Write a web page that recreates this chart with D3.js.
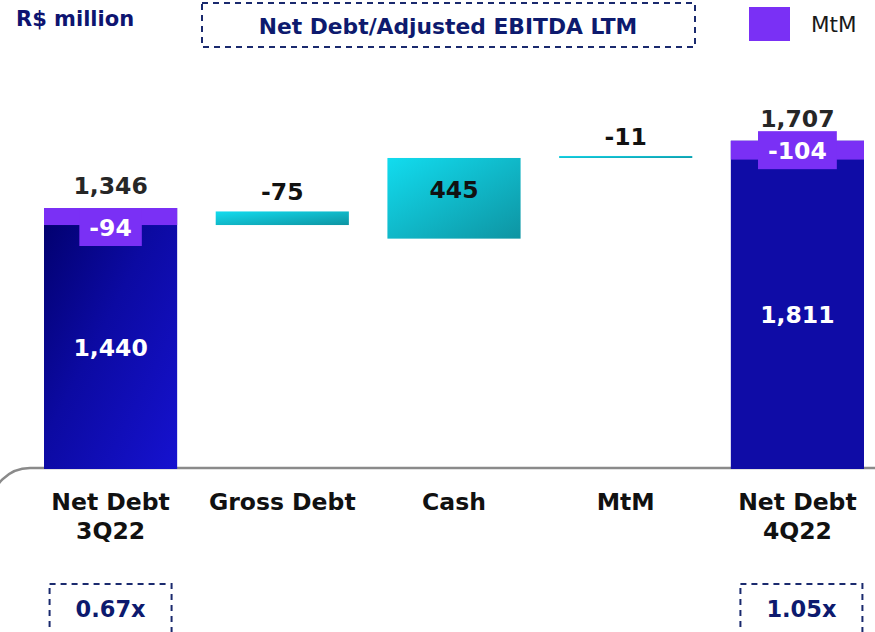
<!DOCTYPE html>
<html>
<head>
<meta charset="utf-8">
<script src="https://cdn.jsdelivr.net/npm/d3@7"></script>
<style>
  body { margin: 0; background: #fff; }
  svg { display: block; font-family: "DejaVu Sans", Verdana, sans-serif; }
</style>
</head>
<body>
<svg id="chart" width="875" height="632"></svg>
<script>
// categories and values
var categories = ["Net Debt\n3Q22", "Gross Debt", "Cash", "MtM", "Net Debt\n4Q22"];
// total bars (before MtM) and their MtM part
var totals = [1440, null, null, null, 1811];
var mtm = [-94, null, null, null, -104];
// floating steps: label, lower and upper edge
var stepLabels = [null, "-75", "445", "-11", null];
var stepLow = [null, 1346, 1271, 1716, null];
var stepHigh = [null, 1421, 1716, 1727, null];
var leverage = ["0.67x", null, null, null, "1.05x"];

var svg = d3.select("#chart");
var navy = "#0d1a6e";
var fs = 23.5;

var x = d3.scaleBand()
  .domain(categories)
  .range([44, 864])
  .paddingInner(0.2245)
  .paddingOuter(0);

var y = d3.scaleLinear()
  .domain([0, 1440])
  .range([469, 208]);

var fmt = d3.format(",");

// gradients
var defs = svg.append("defs");
var g1 = defs.append("linearGradient").attr("id", "blueGrad")
  .attr("x1", 0).attr("y1", 0).attr("x2", 1).attr("y2", 1);
g1.append("stop").attr("offset", "0%").attr("stop-color", "#01006c");
g1.append("stop").attr("offset", "45%").attr("stop-color", "#0c0aa2");
g1.append("stop").attr("offset", "100%").attr("stop-color", "#1612d0");
var g2 = defs.append("linearGradient").attr("id", "cyanGrad")
  .attr("x1", 0).attr("y1", 0).attr("x2", 1).attr("y2", 1);
g2.append("stop").attr("offset", "0%").attr("stop-color", "#12dcef");
g2.append("stop").attr("offset", "100%").attr("stop-color", "#0e94a2");

// rounded gray frame behind the category labels
svg.append("path")
  .attr("d", "M 900 468 L 30 468 A 39 39 0 0 0 -9 507 L -9 700")
  .attr("fill", "none")
  .attr("stroke", "#8a8a8a")
  .attr("stroke-width", 2.5);

// top texts
svg.append("text")
  .attr("x", 16).attr("y", 26)
  .attr("font-size", 21).attr("font-weight", "bold")
  .attr("fill", "#0e1470")
  .text("R$ million");

svg.append("rect")
  .attr("x", 202).attr("y", 3).attr("width", 493).attr("height", 44)
  .attr("fill", "none").attr("stroke", "#1a2a6e")
  .attr("stroke-width", 2).attr("stroke-dasharray", "6,5");
svg.append("text")
  .attr("x", 448).attr("y", 34)
  .attr("text-anchor", "middle")
  .attr("font-size", 21.8).attr("font-weight", "bold")
  .attr("fill", navy)
  .text("Net Debt/Adjusted EBITDA LTM");

// legend
svg.append("rect")
  .attr("x", 749).attr("y", 7).attr("width", 41).attr("height", 34)
  .attr("fill", "#7a30f5");
svg.append("text")
  .attr("x", 811).attr("y", 32)
  .attr("font-size", 21.5)
  .attr("fill", "#1a1a1a")
  .text("MtM");

var idx = d3.range(categories.length);

// total bars
var totalIdx = idx.filter(function(i){ return totals[i] != null; });
var bars = svg.append("g");
totalIdx.forEach(function(i) {
  var c = categories[i];
  var top = totals[i];
  var net = totals[i] + mtm[i];
  bars.append("rect")
    .attr("x", x(c)).attr("width", x.bandwidth())
    .attr("y", y(top)).attr("height", y(0) - y(top))
    .attr("fill", i == 0 ? "url(#blueGrad)" : "#0f0ca6");
  bars.append("rect")
    .attr("x", x(c)).attr("width", x.bandwidth())
    .attr("y", y(top)).attr("height", y(net) - y(top))
    .attr("fill", "#7a30f5");

  // total label above
  bars.append("text")
    .attr("x", x(c) + x.bandwidth() / 2)
    .attr("y", y(top) - 14)
    .attr("text-anchor", "middle")
    .attr("font-size", fs).attr("font-weight", "bold")
    .attr("fill", "#262626")
    .text(fmt(net));

  // inside label
  bars.append("text")
    .attr("x", x(c) + x.bandwidth() / 2)
    .attr("y", (y(net) + y(0)) / 2 + 8.5)
    .attr("text-anchor", "middle")
    .attr("font-size", fs).attr("font-weight", "bold")
    .attr("fill", "#fff")
    .text(fmt(top));

  // MtM label in its purple box
  var boxCy = i == 0 ? y(top) + 19 : (y(top) + y(net)) / 2;
  var boxRect = bars.append("rect").attr("fill", "#7a30f5");
  var t = bars.append("text")
    .attr("x", x(c) + x.bandwidth() / 2)
    .attr("y", boxCy + 8.5)
    .attr("text-anchor", "middle")
    .attr("font-size", fs).attr("font-weight", "bold")
    .attr("fill", "#fff")
    .text(mtm[i]);
  var w = t.node().getComputedTextLength() + 20;
  boxRect
    .attr("x", x(c) + x.bandwidth() / 2 - w / 2).attr("width", w)
    .attr("y", boxCy - 19).attr("height", 38);
});

// floating steps
var stepIdx = idx.filter(function(i){ return stepLow[i] != null; });
var steps = svg.append("g");
steps.selectAll("rect")
  .data(stepIdx)
  .enter()
  .append("rect")
    .attr("x", function(i){ return x(categories[i]); })
    .attr("width", x.bandwidth())
    .attr("y", function(i){ return y(stepHigh[i]); })
    .attr("height", function(i){ return y(stepLow[i]) - y(stepHigh[i]); })
    .attr("fill", "url(#cyanGrad)");

steps.selectAll("text")
  .data(stepIdx)
  .enter()
  .append("text")
    .attr("x", function(i){ return x(categories[i]) + x.bandwidth() / 2; })
    .attr("y", function(i){
      var h = y(stepLow[i]) - y(stepHigh[i]);
      // tall bars keep the label inside
      return h > 40 ? y(stepHigh[i]) + 40 : y(stepHigh[i]) - 11;
    })
    .attr("text-anchor", "middle")
    .attr("font-size", fs).attr("font-weight", "bold")
    .attr("fill", "#111")
    .text(function(i){ return stepLabels[i]; });

// category labels
var cats = svg.append("g");
categories.forEach(function(c) {
  var lines = c.split("\n");
  var t = cats.append("text")
    .attr("x", x(c) + x.bandwidth() / 2)
    .attr("y", 510)
    .attr("text-anchor", "middle")
    .attr("font-size", fs).attr("font-weight", "bold")
    .attr("fill", "#111");
  lines.forEach(function(l, k) {
    t.append("tspan")
      .attr("x", x(c) + x.bandwidth() / 2)
      .attr("dy", k == 0 ? 0 : 29)
      .text(l);
  });
});

// leverage boxes at the bottom
var lev = svg.append("g");
idx.filter(function(i){ return leverage[i] != null; }).forEach(function(i) {
  var cx = x(categories[i]) + x.bandwidth() / 2 + (i == 0 ? 0 : 4);
  lev.append("rect")
    .attr("x", cx - 61).attr("y", 584).attr("width", 122).attr("height", 70)
    .attr("fill", "none").attr("stroke", "#1a2a6e")
    .attr("stroke-width", 2).attr("stroke-dasharray", "6,5");
  lev.append("text")
    .attr("x", cx).attr("y", 617)
    .attr("text-anchor", "middle")
    .attr("font-size", 22.5).attr("font-weight", "bold")
    .attr("fill", navy)
    .text(leverage[i]);
});
</script>
</body>
</html>
